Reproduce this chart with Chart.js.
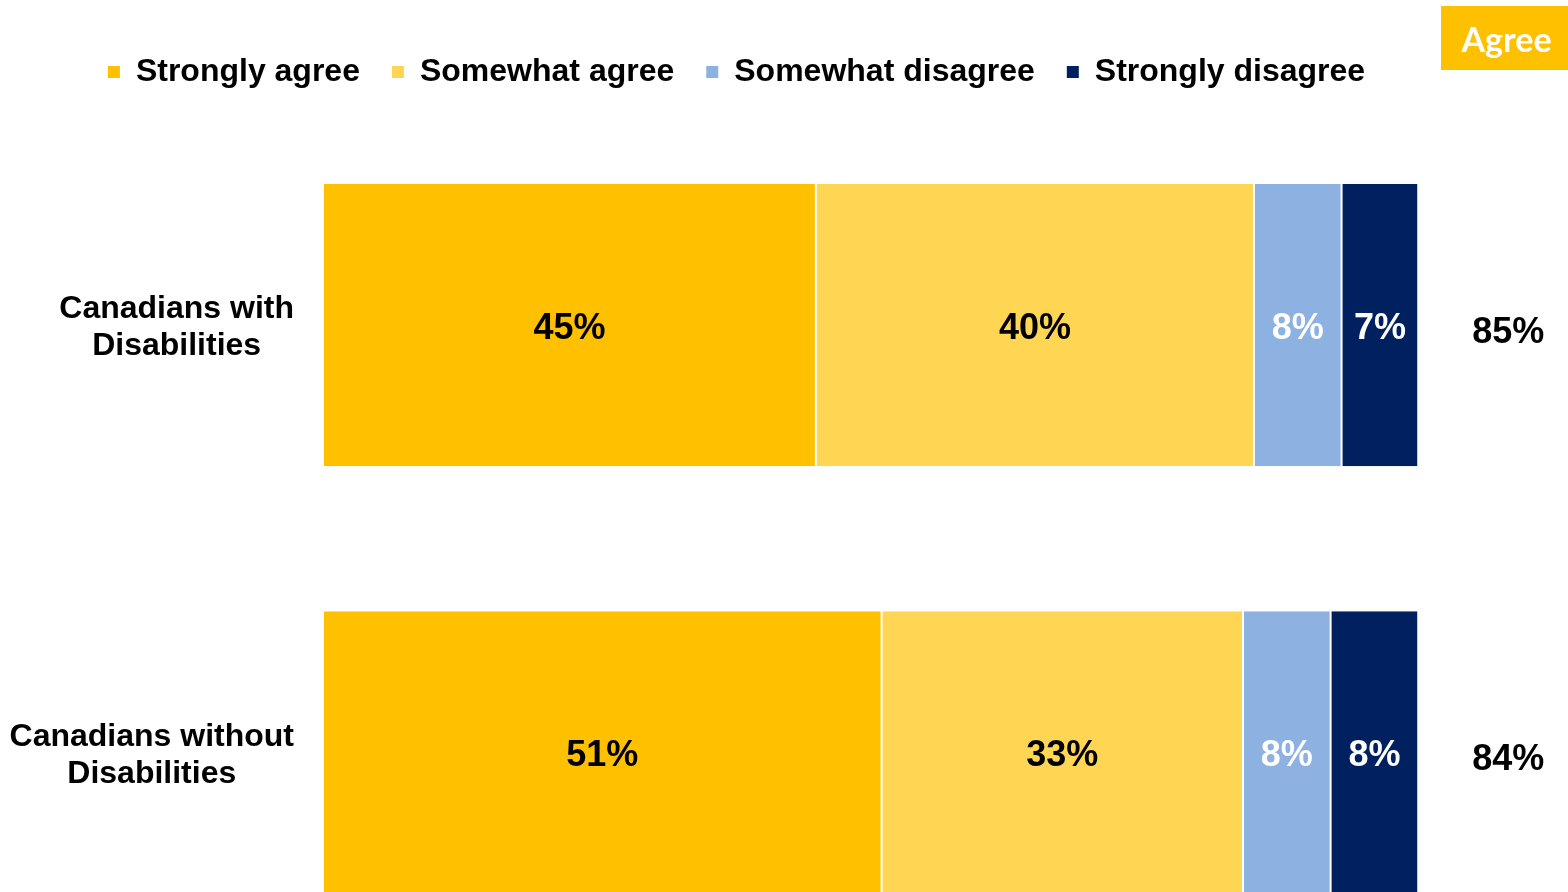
<!DOCTYPE html>
<html><head><meta charset="utf-8">
<script src="https://cdn.jsdelivr.net/npm/chart.js@4"></script>
<style>
html,body{margin:0;padding:0;background:#fff;overflow:hidden}
#wrap{width:1568px;height:892px;overflow:hidden;position:relative}
canvas{display:block}
</style></head>
<body><div id="wrap"><canvas id="c" width="1568" height="966"></canvas></div>
<script>
const categories = [['Canadians with','Disabilities'],['Canadians without','Disabilities']];
const seriesNames = ['Strongly agree','Somewhat agree','Somewhat disagree','Strongly disagree'];
const stronglyAgree = [45, 51];
const somewhatAgree = [40, 33];
const somewhatDisagree = [8, 8];
const stronglyDisagree = [7, 8];
const agreeTotals = [85, 84];
const headerLabel = 'Agree';
const seriesColors = ['#FFC000', '#FFD653', '#8DB1E1', '#002060'];
const valueTextColors = ['#000000', '#000000', '#FFFFFF', '#FFFFFF'];

const FONT = "'Liberation Sans', Arial, sans-serif";
const seriesValues = [stronglyAgree, somewhatAgree, somewhatDisagree, stronglyDisagree];

const categoryLabelPlugin = {
  id: 'categoryLabels',
  afterDraw(chart) {
    const {ctx, chartArea, scales} = chart;
    ctx.save();
    ctx.font = 'bold 32px ' + FONT;
    ctx.fillStyle = '#000';
    ctx.textAlign = 'center';
    ctx.textBaseline = 'middle';
    categories.forEach((lines, i) => {
      const yc = scales.y.getPixelForValue(i) + 3;
      const maxW = Math.max(...lines.map(l => ctx.measureText(l).width));
      const right = chartArea.left - 29;
      const xc = right - maxW / 2;
      lines.forEach((l, k) => {
        ctx.fillText(l, xc, yc + (k - (lines.length - 1) / 2) * 37);
      });
    });
    ctx.restore();
  }
};

const valueLabelPlugin = {
  id: 'valueLabels',
  afterDatasetsDraw(chart) {
    const {ctx} = chart;
    ctx.save();
    ctx.font = 'bold 36px ' + FONT;
    ctx.textAlign = 'center';
    ctx.textBaseline = 'middle';
    chart.data.datasets.forEach((ds, di) => {
      const meta = chart.getDatasetMeta(di);
      meta.data.forEach((bar, i) => {
        const v = ds.data[i];
        ctx.fillStyle = valueTextColors[di];
        ctx.fillText(v + '%', (bar.x + bar.base) / 2, bar.y + 4);
      });
    });
    ctx.restore();
  }
};

const totalsPlugin = {
  id: 'totals',
  afterDraw(chart) {
    const {ctx, scales} = chart;
    ctx.save();
    ctx.font = 'bold 36px ' + FONT;
    ctx.fillStyle = '#000';
    ctx.textAlign = 'center';
    ctx.textBaseline = 'middle';
    const x = scales.x.getPixelForValue(100) + 90;
    agreeTotals.forEach((t, i) => {
      ctx.fillText(t + '%', x, scales.y.getPixelForValue(i) + 8);
    });
    const w = 127, h = 64;
    const bx = chart.width - w, by = 6;
    ctx.fillStyle = '#FFC000';
    ctx.fillRect(bx, by, w, h);
    ctx.fillStyle = '#FFFFFF';
    ctx.font = "bold 34px Lato, 'Open Sans', sans-serif";
    ctx.fillText(headerLabel, bx + w / 2 + 2, by + h / 2 + 3);
    ctx.restore();
  }
};

new Chart(document.getElementById('c'), {
  type: 'bar',
  data: {
    labels: categories,
    datasets: seriesNames.map((name, i) => ({
      label: name,
      data: seriesValues[i],
      backgroundColor: seriesColors[i],
      borderColor: '#FFFFFF',
      borderWidth: {left: 1, right: 1, top: 0, bottom: 0},
      borderSkipped: false,
      categoryPercentage: 0.8,
      barPercentage: 0.8256
    }))
  },
  options: {
    indexAxis: 'y',
    responsive: false,
    animation: false,
    devicePixelRatio: 1,
    layout: {padding: {top: 24, right: 95, left: 0, bottom: 0}},
    plugins: {
      tooltip: {enabled: false},
      legend: {
        position: 'top',
        align: 'center',
        labels: {
          boxWidth: 12,
          boxHeight: 12,
          padding: 32,
          color: '#000',
          font: {family: FONT, weight: 'bold', size: 32},
          generateLabels(chart) {
            return chart.data.datasets.map((ds, i) => ({
              text: ds.label,
              fillStyle: ds.backgroundColor,
              strokeStyle: ds.backgroundColor,
              lineWidth: 0,
              hidden: false,
              datasetIndex: i,
              fontColor: '#000'
            }));
          }
        }
      }
    },
    scales: {
      x: {
        position: 'top',
        stacked: true,
        min: 0,
        max: 105,
        grid: {display: false},
        border: {display: false},
        ticks: {display: false},
        afterFit(s) { s.height = 13.5; }
      },
      y: {
        stacked: true,
        grid: {display: false},
        border: {display: false},
        ticks: {display: false},
        afterFit(s) { s.width = 323; }
      }
    }
  },
  plugins: [categoryLabelPlugin, valueLabelPlugin, totalsPlugin]
});
</script>
</body></html>
